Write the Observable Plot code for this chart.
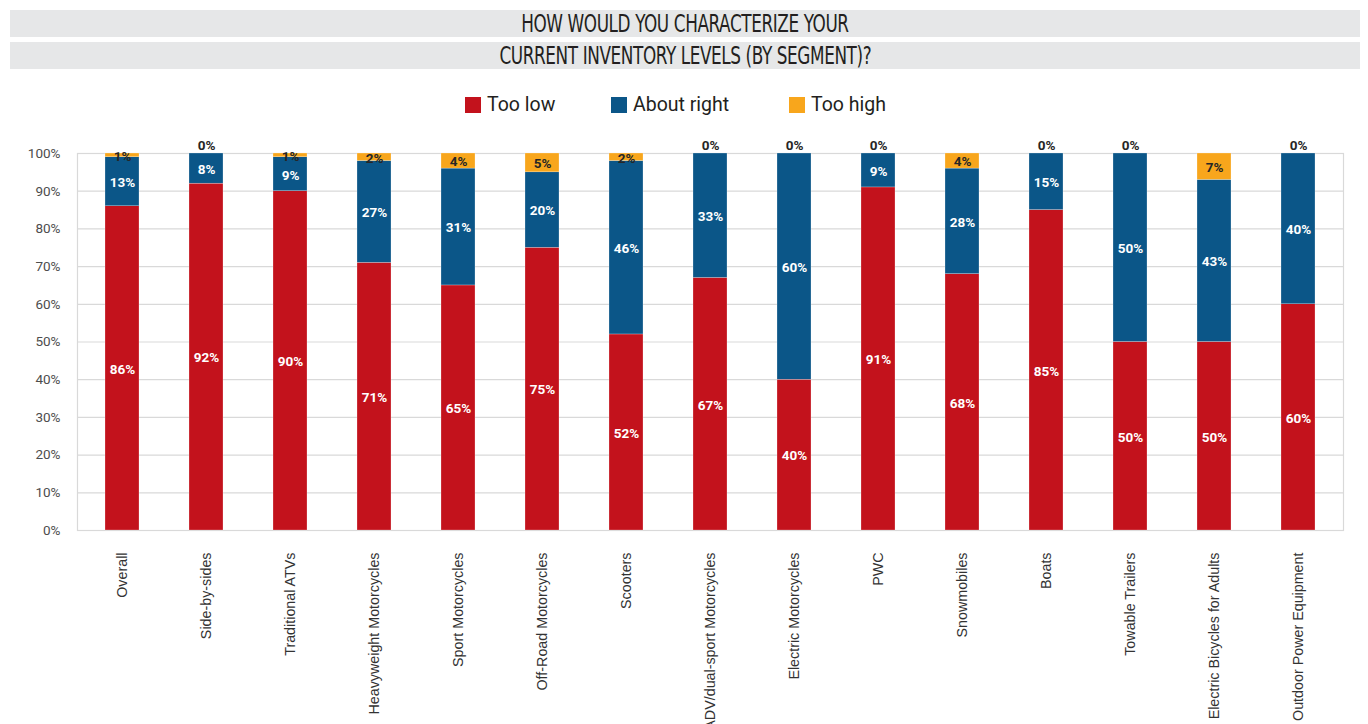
<!DOCTYPE html>
<html>
<head>
<meta charset="utf-8">
<script src="https://cdn.jsdelivr.net/npm/d3@7"></script>
<script src="https://cdn.jsdelivr.net/npm/@observablehq/plot@0.6"></script>
<style>
  html, body { margin: 0; padding: 0; background: #fff; }
  #wrap { position: relative; width: 1368px; height: 724px; overflow: hidden; font-family: Roboto, "Liberation Sans", sans-serif; }
  .tbar { position: absolute; left: 10px; width: 1350px; height: 27px; background: #e6e7e8;
          font-family: "Liberation Sans Narrow", "DejaVu Sans Condensed", sans-serif; font-stretch: condensed;
          font-size: 24px; color: #231f20; text-align: center; line-height: 29px; letter-spacing: -0.5px; font-weight: 300; }
  .tbar span { display: inline-block; transform: scaleX(0.78); transform-origin: center; white-space: nowrap; }
  .leg { position: absolute; top: 96px; font-size: 19.5px; color: #231f20; line-height: 18px; }
  .sw { position: absolute; top: 97px; width: 16px; height: 16px; }
  #chart { position: absolute; left: 0; top: 125px; }
</style>
</head>
<body>
<div id="wrap">
  <div class="tbar" style="top:10px"><span>HOW WOULD YOU CHARACTERIZE YOUR</span></div>
  <div class="tbar" style="top:42px"><span>CURRENT INVENTORY LEVELS (BY SEGMENT)?</span></div>
  <div id="legend"></div>
  <div id="chart"></div>
</div>
<script>
const categories = ["Overall","Side-by-sides","Traditional ATVs","Heavyweight Motorcycles","Sport Motorcycles","Off-Road Motorcycles","Scooters","ADV/dual-sport Motorcycles","Electric Motorcycles","PWC","Snowmobiles","Boats","Towable Trailers","Electric Bicycles for Adults","Outdoor Power Equipment"];
const seriesNames = ["Too low","About right","Too high"];
const seriesColors = ["#c3121c","#0b5688","#f8a61c"];
const tooLow     = [86, 92, 90, 71, 65, 75, 52, 67, 40, 91, 68, 85, 50, 50, 60];
const aboutRight = [13,  8,  9, 27, 31, 20, 46, 33, 60,  9, 28, 15, 50, 43, 40];
const tooHigh    = [ 1,  0,  1,  2,  4,  5,  2,  0,  0,  0,  4,  0,  0,  7,  0];
const yTicks = [0,10,20,30,40,50,60,70,80,90,100];

const seriesValues = [tooLow, aboutRight, tooHigh];
const data = [];
seriesNames.forEach((s, si) => {
  categories.forEach((c, ci) => data.push({category: c, series: s, value: seriesValues[si][ci]}));
});

// legend
const legend = document.getElementById("legend");
const legPos = [465, 611, 789];
seriesNames.forEach((s, i) => {
  const sw = document.createElement("div");
  sw.className = "sw"; sw.style.left = legPos[i] + "px"; sw.style.background = seriesColors[i];
  legend.appendChild(sw);
  const t = document.createElement("div");
  t.className = "leg"; t.style.left = (legPos[i] + 22) + "px"; t.textContent = s;
  legend.appendChild(t);
});

const labelFill = d => d.series === "Too high" ? "#262626" : "#ffffff";

const chart = Plot.plot({
  width: 1368,
  height: 599,
  marginTop: 28,
  marginBottom: 194,
  marginLeft: 77,
  marginRight: 25,
  style: {fontFamily: "Roboto, 'Liberation Sans', sans-serif", background: "transparent", overflow: "visible"},
  x: {domain: categories, paddingInner: 0.597, paddingOuter: 0.296, label: null},
  y: {domain: [0, 100], label: null},
  color: {domain: seriesNames, range: seriesColors},
  marks: [
    Plot.gridY(yTicks, {stroke: "#d9d9d9", strokeOpacity: 1, strokeWidth: 1.2}),
    Plot.frame({stroke: "#d9d9d9", strokeWidth: 1.2}),
    Plot.barY(data, Plot.stackY({x: "category", y: "value", z: "series", fill: "series", order: seriesNames, stroke: "#ffffff", strokeWidth: 0.4, strokeOpacity: 0.6})),
    Plot.text(data, Plot.stackY({x: "category", y: "value", z: "series", order: seriesNames,
      text: d => d.value > 0 ? d.value + "%" : null, fill: labelFill, fontSize: 13.5, fontWeight: "bold", dy: 1})),
    Plot.text(data, Plot.stackY({x: "category", y: "value", z: "series", order: seriesNames,
      text: d => d.value === 0 ? d.value + "%" : null, fill: "#262626", fontSize: 13.5, fontWeight: "bold", dy: -8})),
    Plot.axisY(yTicks, {tickFormat: d => d + "%", tickSize: 0, tickPadding: 17, fontSize: 13.5, fill: "#4d4d4d", label: null}),
    Plot.axisX({tickRotate: -90, tickSize: 0, tickPadding: 22, fontSize: 14.3, fill: "#333333", fontFamily: "'Liberation Sans', Arial, sans-serif", label: null})
  ]
});
document.getElementById("chart").appendChild(chart);
</script>
</body>
</html>
